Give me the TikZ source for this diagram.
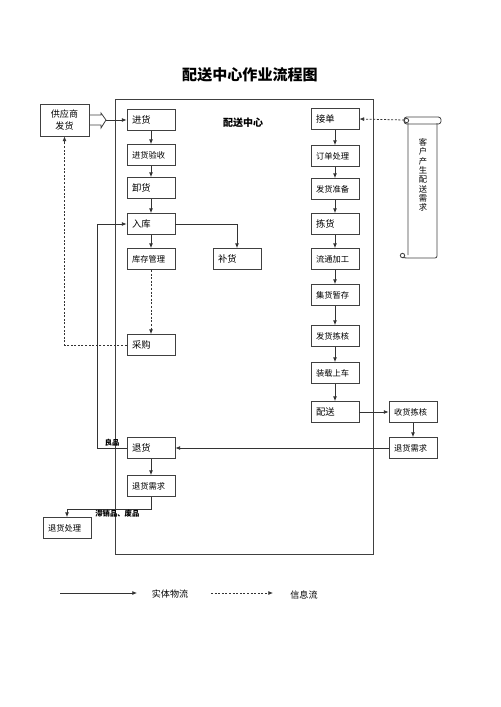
\documentclass[tikz,border=0pt]{standalone}
\usepackage{fontspec}
\setmainfont{Noto Sans CJK SC}
\usetikzlibrary{arrows.meta}

\begin{document}
\begin{tikzpicture}[x=0.75pt, y=-0.75pt,
    box/.style={draw=black!75, line width=0.6pt, text width=28.5pt, inner xsep=3.75pt,
        minimum height=15.75pt, align=left, font=\fontsize{6.2}{7}\selectfont},
    big/.style={font=\fontsize{7}{8}\selectfont},
    arr/.style={draw=black!80, line width=0.6pt, -{Latex[length=3.5pt, width=3pt]}},
    info/.style={arr, dashed, dash pattern=on 1.5pt off 1.2pt},
    tag/.style={font=\fontsize{5.5}{6}\selectfont\bfseries, inner sep=1pt}]
    \useasboundingbox (0,0) rectangle (500,707);
    % title and frame
    \node[font=\fontsize{11.3}{13}\selectfont\bfseries] (title) at (250,75) {配送中心作业流程图};
    \draw[black!75, line width=0.7pt] (115,99) rectangle (373,554);
    \node[font=\fontsize{7.5}{9}\selectfont\bfseries] (center) at (243,123) {配送中心};

    % supplier
    \node[draw=black!75, line width=0.6pt, minimum width=36.75pt, minimum height=24pt,
        align=center, font=\fontsize{6.8}{9}\selectfont] (gys) at (64.5,120) {供应商\\发货};

    % left column
    \node[box, big] (jh) at (151,120) {进货};
    \node[box] (jhys) at (151,155) {进货验收};
    \node[box, big] (xh) at (151,188) {卸货};
    \node[box, big] (rk) at (151,224) {入库};
    \node[box] (kcgl) at (151,259) {库存管理};
    \node[box, big] (bh) at (237,259) {补货};
    \node[box, big] (cg) at (151,345) {采购};
    \node[box, big] (th) at (151,448) {退货};
    \node[box] (thxq) at (151,486) {退货需求};
    \node[box] (thcl) at (67,528) {退货处理};

    % right column
    \node[box, big] (jd) at (335,119) {接单};
    \node[box] (ddcl) at (335,156) {订单处理};
    \node[box] (fhzb) at (335,189) {发货准备};
    \node[box, big] (jianh) at (335,224) {拣货};
    \node[box] (ltjg) at (335,259) {流通加工};
    \node[box] (jhzc) at (335,295) {集货暂存};
    \node[box] (fhjh) at (335,336) {发货拣核};
    \node[box] (zzsc) at (335,373) {装载上车};
    \node[box, big] (ps) at (335,412) {配送};
    \node[box] (shjh) at (413,412) {收货拣核};
    \node[box] (thxq2) at (413,448) {退货需求};

    % customer scroll
    \draw[black!75, line width=0.6pt] (408,123) -- (408,255) (437,123) -- (437,256) arc (0:90:2) -- (408,258);
    \draw[black!75, line width=0.6pt, rounded corners=2pt] (404,117) rectangle (441,124);
    \draw[black!75, line width=0.6pt] (406.5,120.5) circle (2.2);
    \draw[black!75, line width=0.6pt] (402.5,255.5) circle (2.2) (402.5,257.7) -- (408,258);
    \coordinate (kh) at (404,120);
    \node[align=center, font=\fontsize{6.2}{7}\selectfont] (khxq) at (423,175)
        {客\\户\\产\\生\\配\\送\\需\\求};

    % hollow arrow from supplier
    \draw[black!75, line width=0.6pt] (gys.east |- 0,115) -- (101,115) -- (101,113) -- (106,120)
        -- (101,128) -- (101,125) -- (gys.east |- 0,125);
    \coordinate (ha) at (106,120);
    \draw[arr] (ha) -- (jh.west |- ha);

    % physical flow
    \draw[arr] (jh) -- (jhys);
    \draw[arr] (jhys) -- (xh);
    \draw[arr] (xh) -- (rk);
    \draw[arr] (rk) -- (kcgl);
    \draw[arr] (rk.east) -| (bh.north);
    \draw[arr] (th.west) -- ++(-29,0) node[midway, above, tag] {良品} |- (rk.west);
    \draw[arr] (th) -- (thxq);
    \draw[arr] (thxq.south) -- ++(0,12) -| node[pos=0.2, below, tag] {滞销品、废品} (thcl.north);
    \draw[arr] (jd) -- (ddcl);
    \draw[arr] (ddcl) -- (fhzb);
    \draw[arr] (fhzb) -- (jianh);
    \draw[arr] (jianh) -- (ltjg);
    \draw[arr] (ltjg) -- (jhzc);
    \draw[arr] (jhzc) -- (fhjh);
    \draw[arr] (fhjh) -- (zzsc);
    \draw[arr] (zzsc) -- (ps);
    \draw[arr] (ps) -- (shjh);
    \draw[arr] (shjh) -- (thxq2);
    \draw[arr] (thxq2) -- (th);

    % information flow
    \draw[info] (kcgl) -- (cg);
    \draw[info] (cg.west) -| (gys.south);
    \draw[info] (kh) -- (jd.east);

    % legend
    \coordinate (l1) at (60,593);
    \coordinate (l2) at (137,593);
    \coordinate (l3) at (211,593);
    \coordinate (l4) at (273,593);
    \draw[arr] (l1) -- (l2);
    \node[font=\fontsize{6.8}{8}\selectfont] (swl) at (170,594) {实体物流};
    \draw[info] (l3) -- (l4);
    \node[font=\fontsize{6.8}{8}\selectfont] (xxl) at (304,595) {信息流};
\end{tikzpicture}
\end{document}
